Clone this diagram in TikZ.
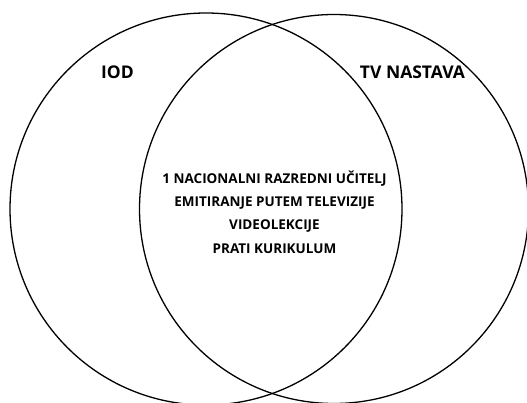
\documentclass[tikz,border=0pt]{standalone}
\usepackage{fontspec}
\setmainfont{Open Sans}
\begin{document}
\begin{tikzpicture}[x=1pt,y=-1pt,
  ring/.style={draw=black,line width=1.3pt},
  lbl/.style={font=\fontsize{17.5}{20}\selectfont\bfseries,inner sep=0pt},
  mid/.style={font=\fontsize{13.5}{23.3}\selectfont\bfseries,align=center,inner sep=0pt}]
\useasboundingbox (0,0) rectangle (527,403);
\clip (0,0) rectangle (527,403);
\node[ring,circle,minimum size=392pt,inner sep=0pt] (L) at (206,209) {};
\node[ring,circle,minimum size=389pt,inner sep=0pt] (R) at (334,209) {};
\node[lbl] (iod) at (117.5,72) {IOD};
\node[lbl] (tv) at (412.5,72) {TV NASTAVA};
\node[mid] (txt) at (274.5,212) {1 NACIONALNI RAZREDNI UČITELJ\\EMITIRANJE PUTEM TELEVIZIJE\\VIDEOLEKCIJE\\PRATI KURIKULUM};
\end{tikzpicture}
\end{document}
